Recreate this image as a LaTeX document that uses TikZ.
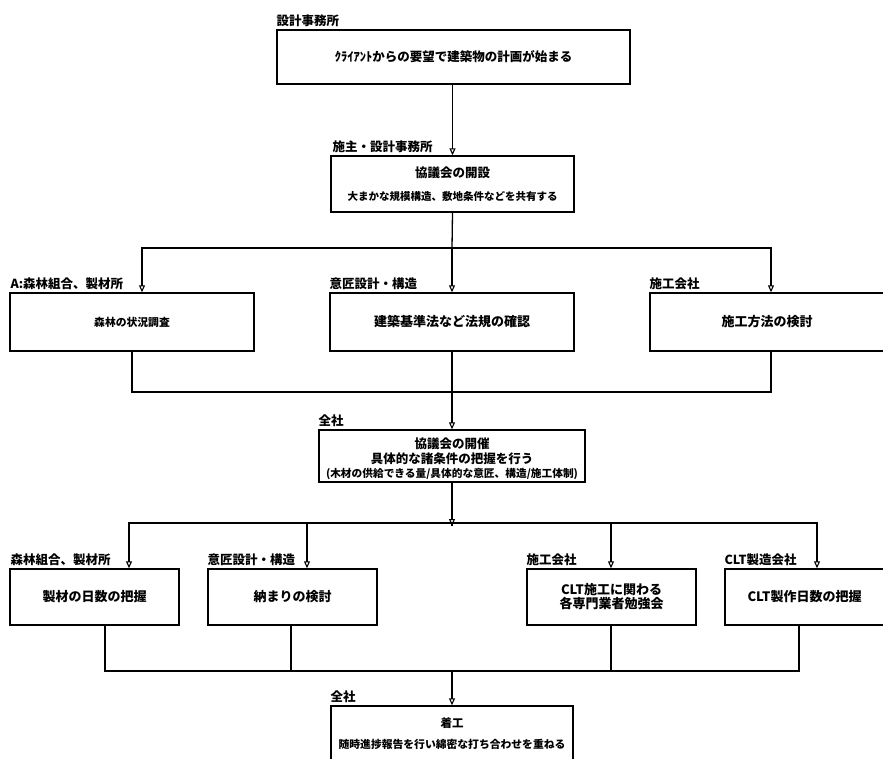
\documentclass[tikz,border=0pt]{standalone}
\usepackage{fontspec}
\setmainfont{Noto Sans CJK JP}
\usetikzlibrary{arrows.meta}
\newcommand{\fs}[1]{\fontsize{#1}{#1}\selectfont}
\tikzset{
  box/.style={draw, line width=1.4pt, inner sep=0pt, align=center, font=\bfseries},
  txt/.style={inner sep=0pt, align=center, font=\bfseries},
  lab/.style={anchor=south west, inner sep=0pt, yshift=2pt, font=\bfseries\fs{12.5}},
  conn/.style={line width=1.3pt},
  arr/.style={line width=1.3pt, -{Triangle[open,width=6pt,length=7pt,line width=1.1pt]}}
}
\begin{document}
\begin{tikzpicture}[x=1pt,y=-1pt]
\useasboundingbox[fill=white] (0,0) rectangle (883,758);
% top
\node[box, minimum width=353pt, minimum height=54pt, font=\bfseries\fs{12.5}] (top) at (453.5,57) {ｸﾗｲｱﾝﾄからの要望で建築物の計画が始まる};
\node[lab] (ltop) at (top.north west) {設計事務所};
% second
\node[box, minimum width=243pt, minimum height=56pt] (n2) at (452.5,184) {{\fs{12.5}協議会の開設}\\[11pt]{\fs{10.5}大まかな規模構造、敷地条件などを共有する}};
\node[lab] (ln2) at ([xshift=2pt]n2.north west) {施主・設計事務所};
% row 1
\node[box, minimum width=244pt, minimum height=58pt, font=\bfseries\fs{10.8}] (A) at (132,322) {森林の状況調査};
\node[lab] (lA) at ([xshift=1pt]A.north west) {A:森林組合、製材所};
\node[box, minimum width=244pt, minimum height=58pt, font=\bfseries\fs{13}] (B) at (452,322) {建築基準法など法規の確認};
\node[lab] (lB) at (B.north west) {意匠設計・構造};
\node[box, minimum width=234pt, minimum height=58pt, font=\bfseries\fs{13}] (C) at (767,322) {施工方法の検討};
\node[lab] (lC) at (C.north west) {施工会社};
% middle
\node[box, minimum width=266pt, minimum height=52pt] (M) at (452,456) {};
\node[txt] (Mt) at ([yshift=-2.5pt]M.center) {{\fs{12.5}協議会の開催}\\[3pt]{\fs{12.5}具体的な諸条件の把握を行う}\\[1.5pt]{\fs{10.7}(木材の供給できる量/具体的な意匠、構造/施工体制)}};
\node[lab] (lM) at (M.north west) {全社};
% row 2
\node[box, minimum width=169pt, minimum height=56pt, font=\bfseries\fs{13}] (D) at (94.5,597) {製材の日数の把握};
\node[lab] (lD) at ([xshift=1pt]D.north west) {森林組合、製材所};
\node[box, minimum width=169pt, minimum height=56pt, font=\bfseries\fs{13}] (E) at (292.5,597) {納まりの検討};
\node[lab] (lE) at (E.north west) {意匠設計・構造};
\node[box, minimum width=169pt, minimum height=56pt, font=\bfseries\fs{13}] (F) at (611.5,597) {\fs{13}CLT施工に関わる\\[1pt]各専門業者勉強会};
\node[lab] (lF) at (F.north west) {施工会社};
\node[box, minimum width=159pt, minimum height=56pt, font=\bfseries\fs{13}] (G) at (804.5,597) {CLT製作日数の把握};
\node[lab] (lG) at (G.north west) {CLT製造会社};
% bottom
\node[box, minimum width=242pt, minimum height=56pt] (Z) at (452,734) {{\fs{11.5}着工}\\[9pt]{\fs{10.8}随時進捗報告を行い綿密な打ち合わせを重ねる}};
\node[lab] (lZ) at (Z.north west) {全社};
% junctions
\coordinate (h1) at (452,248);
\coordinate (h2) at (452,392);
\coordinate (h3) at (452,523);
\coordinate (h4) at (452,671);
% connectors
\draw[arr] (top.south -| n2.north) -- (n2.north);
\draw[conn] (n2.south) -- (h1);
\draw[arr] (h1) -| ([xshift=10pt]A.north);
\draw[arr] (h1) -- (B.north);
\draw[arr] (h1) -| ([xshift=4pt]C.north);
\draw[conn] (A.south) |- (h2);
\draw[conn] (B.south) -- (h2);
\draw[conn] ([xshift=4pt]C.south) |- (h2);
\draw[arr] (h2) -- (M.north);
\draw[arr] (M.south) -- ([yshift=-3pt]h3);
\draw[conn] ([yshift=-3pt]h3) -- (h3);
\draw[arr] (h3) -| ([xshift=34.5pt]D.north);
\draw[arr] (h3) -| ([xshift=14.5pt]E.north);
\draw[arr] (h3) -| ([xshift=-0.5pt]F.north);
\draw[arr] (h3) -| ([xshift=12.5pt]G.north);
\draw[conn] ([xshift=10.5pt]D.south) |- (h4);
\draw[conn] ([xshift=-1.5pt]E.south) |- (h4);
\draw[conn] ([xshift=-0.5pt]F.south) |- (h4);
\draw[conn] ([xshift=-5.5pt]G.south) |- (h4);
\draw[arr] (h4) -- (Z.north);
\end{tikzpicture}
\end{document}
